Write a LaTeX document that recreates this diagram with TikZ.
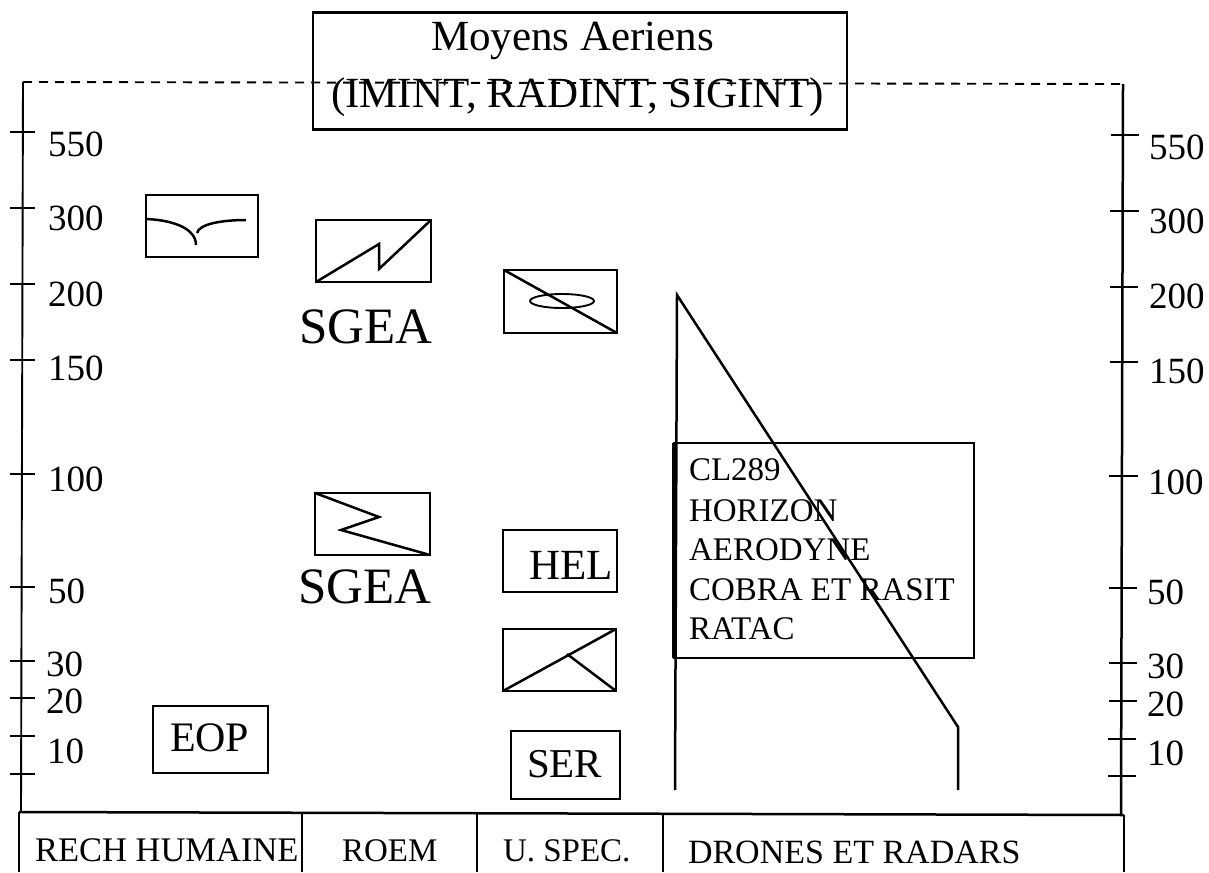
\documentclass[tikz,border=0pt]{standalone}
\usepackage{fontspec}
\setmainfont{Liberation Serif}
\newcommand{\fsz}[1]{\fontsize{#1}{#1}\selectfont}
\tikzset{
  box/.style={draw=black,line width=2.2pt,minimum width=#1,inner sep=0pt,outer sep=0pt},
  ink/.style={draw=black,line width=2.5pt},
  thinink/.style={draw=black,line width=1.9pt},
  lab/.style={anchor=base west,inner sep=0pt,outer sep=0pt,text=black},
}
\begin{document}
\begin{tikzpicture}[x=1pt,y=-1pt]
\useasboundingbox (0,0) rectangle (1209,872);
\fill[white] (0,0) rectangle (1209,872);

% axes
\coordinate (lt) at (23,82); \coordinate (lb) at (21,812);
\coordinate (rt) at (1123,84); \coordinate (rb) at (1121,814);
\draw[thinink,dash pattern=on 9pt off 7pt] (lt) -- (rt);
\draw[thinink] (lt) -- (lb);
\draw[ink] (rt) -- (rb);
% bottom band
\coordinate (bl) at (19,812); \coordinate (br) at (1124,815);
\draw[ink] (bl) -- (br);
\draw[ink] (bl) -- (19,872);
\draw[ink] (br) -- (1124,872);
\draw[thinink] (302,813) -- (302,872);
\draw[thinink] (477,813) -- (477,872);
\draw[thinink] (663,814) -- (663,872);

% ticks left
\foreach \y in {132,208,284,360,474,587,661,698,736,774}
  \draw[ink] (10,\y) -- (35,\y);
% ticks right
\foreach \y/\a/\b in {135/1111/1139,211/1110/1139,287/1110/1138,362/1110/1138,476/1109/1138,588/1109/1137,663/1109/1137,701/1109/1137,739/1108/1136,776/1108/1136}
  \draw[ink] (\a,\y) -- (\b,\y);

% tick labels left
\foreach \t/\x/\y in {550/48/156,300/48/230,200/48/306,150/48/380,100/48/491,50/48/603,30/46/676,20/46/713,10/47/763}
  \node[lab,font=\fsz{37}] (l\t) at (\x,\y) {\t};
% tick labels right
\foreach \t/\x/\y in {550/1149/159,300/1149/233,200/1149/308,150/1149/383,100/1148/494,50/1147/604,30/1147/678,20/1147/716,10/1147/765}
  \node[lab,font=\fsz{37}] (r\t) at (\x,\y) {\t};

% title
\node[box=534pt,minimum height=117pt] (title) at (580,71) {};
\node[lab,font=\fsz{43}] (t1) at (431,51) {Moyens Aeriens};
\node[lab,font=\fsz{43}] (t2) at (331,108) {(IMINT, RADINT, SIGINT)};

% symbol boxes
\node[box=112pt,minimum height=62pt] (b1) at (202,226) {};
\coordinate (b1a) at (146,219); \coordinate (b1b) at (196,245);
\coordinate (b1c) at (197,233); \coordinate (b1d) at (246,220);
\draw[ink] (b1a) .. controls (172,220) and (196,228) .. (b1b);
\draw[ink] (b1c) .. controls (199,224) and (222,220) .. (b1d);

\node[box=115pt,minimum height=62pt] (b2) at (373.5,251) {};
\draw[ink,line join=miter] (b2.south west) -- (379,244) -- (379,269) -- (b2.north east);
\node[lab,font=\fsz{51}] (s1) at (299,343) {SGEA};

\node[box=113pt,minimum height=63pt] (b3) at (560.5,301.5) {};
\draw[ink] (b3.north west) -- (b3.south east);
\draw[thinink] (562,301) ellipse [x radius=32pt,y radius=7pt];

\node[box=115pt,minimum height=62pt] (b4) at (372.5,524) {};
\draw[ink] (b4.north west) -- (379,517) -- (341,530) -- (b4.south east);
\node[lab,font=\fsz{51}] (s2) at (298,603) {SGEA};

\node[box=114pt,minimum height=62pt] (hel) at (560,561) {};
\node[lab,font=\fsz{43}] (helt) at (529,579) {HEL};

\node[box=113pt,minimum height=62pt] (b5) at (559.5,660) {};
\coordinate (b5m) at (567,654);
\draw[ink] (b5.south west) -- (b5.north east);
\draw[ink] (b5m) -- (b5.south east);

\node[box=109pt,minimum height=68pt] (ser) at (565.5,765) {};
\node[lab,font=\fsz{41}] (sert) at (527,777) {SER};

\node[box=115pt,minimum height=67pt] (eop) at (210.5,739.5) {};
\node[lab,font=\fsz{42}] (eopt) at (170,751) {EOP};

% drones profile
\coordinate (p1) at (675,790); \coordinate (p2) at (677,295);
\coordinate (p3) at (958,727); \coordinate (p4) at (958,790);
\draw[ink] (p1) -- (p2) -- (p3) -- (p4);

% drones box
\node[box=300pt,minimum height=215pt] (dr) at (824,550.5) {};
\draw[line width=3.5pt] (dr.south west) -- (dr.north west);
\node[lab,font=\fsz{33}] (d1) at (689,480) {CL289};
\node[lab,font=\fsz{33}] (d2) at (689,521) {HORIZON};
\node[lab,font=\fsz{33}] (d3) at (689,560) {AERODYNE};
\node[lab,font=\fsz{33}] (d4) at (689,600) {COBRA ET RASIT};
\node[lab,font=\fsz{33}] (d5) at (689,639) {RATAC};

% band labels
\node[lab,font=\fsz{34.5}] (c1) at (35,861) {RECH HUMAINE};
\node[lab,font=\fsz{33}] (c2) at (342,861) {ROEM};
\node[lab,font=\fsz{33}] (c3) at (503,861) {U. SPEC.};
\node[lab,font=\fsz{34}] (c4) at (688,863) {DRONES ET RADARS};
\end{tikzpicture}
\end{document}
